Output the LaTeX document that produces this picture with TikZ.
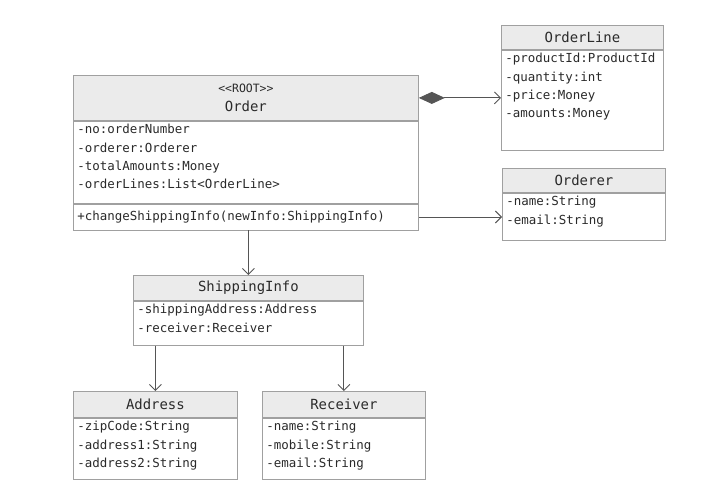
\documentclass[tikz,border=0pt]{standalone}
\usepackage{fontspec}
\setmonofont{DejaVu Sans Mono}
\usetikzlibrary{arrows.meta,positioning}
\definecolor{umlline}{HTML}{A0A0A0}
\definecolor{umlhead}{HTML}{EBEBEB}
\definecolor{umltext}{HTML}{2A2A2A}
\definecolor{umlarrow}{HTML}{555555}
\tikzset{
	classbox/.style = {draw=umlline, line width=0.8bp, inner sep=0pt, text=umltext},
	classhead/.style = {classbox, fill=umlhead, align=center, font=\fontsize{14}{19}\selectfont\ttfamily},
	classattr/.style = {classbox, fill=white, inner xsep=4bp, inner ysep=3bp, align=left, font=\fontsize{12.5}{18.5}\selectfont\ttfamily},
	assoc/.style = {draw=umlarrow, line width=0.9bp, -{Straight Barb[length=6bp,width=12bp]}},
	compose/.style = {assoc, {Diamond[length=26bp,width=12bp,fill=umlarrow]}-{Straight Barb[length=6bp,width=12bp]}}
}
% fixed height attribute block, text at the top
\newcommand{\attrblock}[3]{\parbox[t][#2][t]{#1}{#3}}

\begin{document}
\begin{tikzpicture}[x=1bp, y=-1bp]
\useasboundingbox (0,0) rectangle (720,496);

% Order (root)
\node [classhead, anchor=north west, minimum width=345bp, minimum height=45bp] (order) at (73,75)
	{{\fontsize{11.5}{14}\selectfont <<ROOT>>}\\Order};
\node [classattr, below=0pt of order] (orderattr)
	{\attrblock{337bp}{76bp}{-no:orderNumber\\-orderer:Orderer\\-totalAmounts:Money\\-orderLines:List<OrderLine>}};
\node [classattr, below=0pt of orderattr, text width=337bp, minimum height=26bp] (ordermeth)
	{+changeShippingInfo(newInfo:ShippingInfo)};

% OrderLine
\node [classhead, anchor=north west, minimum width=162bp, minimum height=24bp] (orderline) at (501,25) {OrderLine};
\node [classattr, below=0pt of orderline] (orderlineattr)
	{\attrblock{154bp}{94bp}{-productId:ProductId\\-quantity:int\\-price:Money\\-amounts:Money}};

% Orderer
\node [classhead, anchor=north west, minimum width=163bp, minimum height=24bp] (orderer) at (502,168) {Orderer};
\node [classattr, below=0pt of orderer] (ordererattr)
	{\attrblock{155bp}{41bp}{-name:String\\-email:String}};

% ShippingInfo
\node [classhead, anchor=north west, minimum width=230bp, minimum height=25bp] (shipping) at (133,275) {ShippingInfo};
\node [classattr, below=0pt of shipping] (shippingattr)
	{\attrblock{222bp}{38bp}{-shippingAddress:Address\\-receiver:Receiver}};

% Address
\node [classhead, anchor=north west, minimum width=164bp, minimum height=26bp] (address) at (73,391) {Address};
\node [classattr, below=0pt of address] (addressattr)
	{\attrblock{156bp}{55bp}{-zipCode:String\\-address1:String\\-address2:String}};

% Receiver
\node [classhead, anchor=north west, minimum width=163bp, minimum height=26bp] (receiver) at (262,391) {Receiver};
\node [classattr, below=0pt of receiver] (receiverattr)
	{\attrblock{155bp}{55bp}{-name:String\\-mobile:String\\-email:String}};

% relations
\draw [compose] (order.east) -- (order.east -| orderlineattr.west);
\draw [assoc] (ordermeth.east) -- (ordermeth.east -| ordererattr.west);
\draw [assoc] (shipping.north |- ordermeth.south) -- (shipping.north);
\draw [assoc] (address.north |- shippingattr.south) -- (address.north);
\draw [assoc] (receiver.north |- shippingattr.south) -- (receiver.north);
\end{tikzpicture}
\end{document}
